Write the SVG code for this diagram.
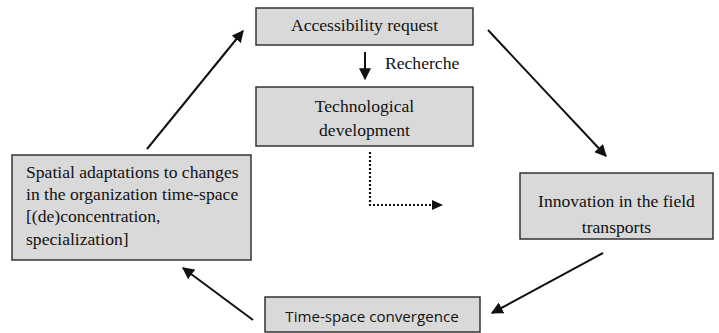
<svg xmlns="http://www.w3.org/2000/svg" width="719" height="333" viewBox="0 0 719 333">
<style>
.box{fill:#d9d9d9;stroke:#333;stroke-width:1.5}
.t{font-family:"Times New Roman","Liberation Serif","DejaVu Serif",serif;font-size:17.6px;fill:#111}
.s{font-family:"Open Sans","Liberation Sans",sans-serif;font-size:15.1px;fill:#111}
.c{stroke:#111;stroke-width:2;fill:none}
.d{stroke:#111;stroke-width:2.2;fill:none;stroke-dasharray:2 2}
</style>
<defs>
<marker id="ah" viewBox="0 0 10 10" refX="9" refY="5" markerWidth="6" markerHeight="6" markerUnits="strokeWidth" orient="auto">
<path d="M0,0 L10,5 L0,10 z" fill="#111"/>
</marker>
</defs>
<rect width="719" height="333" fill="#fff"/>
<g id="connectors">
<line class="c" x1="147" y1="149" x2="243" y2="31" marker-end="url(#ah)"/>
<line class="c" x1="488" y1="30" x2="606" y2="156" marker-end="url(#ah)"/>
<line class="c" x1="365" y1="52" x2="365" y2="79" marker-end="url(#ah)"/>
<line class="c" x1="603" y1="253" x2="492" y2="313" marker-end="url(#ah)"/>
<line class="c" x1="253" y1="320" x2="183" y2="268" marker-end="url(#ah)"/>
<path class="d" d="M370,152 L370,205 L432,205"/>
<path d="M432,200 L443,205 L432,210 z" fill="#111"/>
<text class="t" x="385" y="69">Recherche</text>
</g>
<g id="accessibility">
<rect class="box" x="256" y="8" width="217" height="37"/>
<text class="t" x="364.5" y="31" text-anchor="middle">Accessibility request</text>
</g>
<g id="technological">
<rect class="box" x="256" y="87" width="217" height="59"/>
<text class="t" x="364.5" y="112" text-anchor="middle">Technological</text>
<text class="t" x="364.5" y="136" text-anchor="middle">development</text>
</g>
<g id="spatial">
<rect class="box" x="12" y="155" width="239" height="105"/>
<text class="t" x="26" y="178">Spatial adaptations to changes</text>
<text class="t" x="26" y="200">in the organization time-space</text>
<text class="t" x="26" y="222">[(de)concentration,</text>
<text class="t" x="26" y="245">specialization]</text>
</g>
<g id="innovation">
<rect class="box" x="520" y="173" width="193" height="66"/>
<text class="t" x="616.5" y="207" text-anchor="middle">Innovation in the field</text>
<text class="t" x="616.5" y="233" text-anchor="middle">transports</text>
</g>
<g id="timespace">
<rect class="box" x="265" y="297" width="215" height="35"/>
<text class="s" x="372" y="322" text-anchor="middle">Time-space convergence</text>
</g>
</svg>
